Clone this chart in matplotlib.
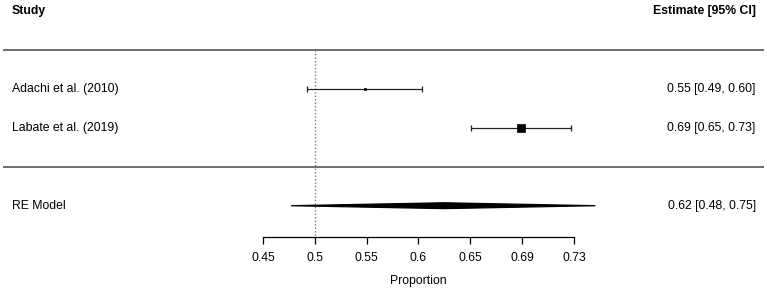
"""
Forest plot of pooled proportion (logit scale, back-transformed tick labels).
"""
import numpy as np
import matplotlib.pyplot as plt
from matplotlib.patches import Polygon

# -- Data --
studies = ["Adachi et al. (2010)", "Labate et al. (2019)"]
est = [0.548, 0.689]
ci_lo = [0.492, 0.646]
ci_hi = [0.602, 0.729]

re_label = "RE Model"
re_est = 0.622
re_lo = 0.477
re_hi = 0.747

tick_logit = [-0.2, 0.0, 0.2, 0.4, 0.6, 0.8, 1.0]
tick_labels = ["0.45", "0.5", "0.55", "0.6", "0.65", "0.69", "0.73"]
ref_value = 0.5

def logit(p):
    p = np.asarray(p, dtype=float)
    return np.log(p / (1 - p))

def fmt(e, lo, hi):
    return "%.2f [%.2f, %.2f]" % (e, lo, hi)

def main():
    plt.rcParams['font.family'] = ['Liberation Sans', 'DejaVu Sans']
    fs = 8.8
    fig = plt.figure(figsize=(7.67, 2.91), dpi=100)
    ax = fig.add_axes([0, 0, 1, 1])
    ax.set_xlim(-1.2145, 1.7446)
    ax.set_ylim(-3.187, 4.274)

    rows = np.arange(len(studies), 0, -1)  # 2, 1
    x_left, x_right = -1.168, 1.701
    line_l, line_r = -1.203, 1.733

    # -- header --
    ax.text(x_left, 4, "Study", ha='left', va='center', fontsize=fs, fontweight='bold')
    ax.text(x_right, 4, "Estimate [95% CI]", ha='right', va='center', fontsize=fs, fontweight='bold')

    # -- separators --
    for y in (3, 0):
        ax.plot([line_l, line_r], [y, y], color='#555555', lw=1.2, solid_capstyle='butt')

    # -- reference line --
    ax.plot([logit(ref_value)] * 2, [3, -1.795], color='#777777', lw=1.0, ls=(0, (1, 1.5)))

    # -- studies --
    sizes = [2.0, 6.0]
    for i, r in enumerate(rows):
        x = logit(est[i])
        lo, hi = logit(ci_lo[i]), logit(ci_hi[i])
        ax.errorbar(x, r, xerr=[[x - lo], [hi - x]], fmt='none', ecolor='#222222',
                    elinewidth=0.9, capsize=2.0, capthick=0.9)
        ax.plot(x, r, 's', color='black', ms=sizes[i], mew=0.5)
        ax.text(x_left, r, studies[i], ha='left', va='center', fontsize=fs)
        ax.text(x_right, r, fmt(est[i], ci_lo[i], ci_hi[i]), ha='right', va='center', fontsize=fs)

    # -- summary diamond --
    h = 0.075
    xe, xl, xh = logit(re_est), logit(re_lo), logit(re_hi)
    ax.add_patch(Polygon([[xl, -1], [xe, -1 + h], [xh, -1], [xe, -1 - h]],
                         closed=True, facecolor='black', edgecolor='black', lw=0.9))
    ax.text(x_left, -1, re_label, ha='left', va='center', fontsize=fs)
    ax.text(x_right, -1, fmt(re_est, re_lo, re_hi), ha='right', va='center', fontsize=fs)

    # -- x axis --
    for s in ('top', 'left', 'right'):
        ax.spines[s].set_visible(False)
    ax.spines['bottom'].set_position(('data', -1.795))
    ax.spines['bottom'].set_bounds(tick_logit[0], tick_logit[-1])
    ax.spines['bottom'].set_linewidth(0.9)
    ax.set_xticks(tick_logit)
    ax.set_xticklabels(tick_labels, fontsize=fs)
    ax.tick_params(axis='x', direction='out', length=5, width=0.9, pad=6)
    ax.set_yticks([])
    ax.text(np.mean([tick_logit[0], tick_logit[-1]]), -2.936, "Proportion",
            ha='center', va='center', fontsize=fs)

    fig.savefig("out.png", dpi=100)

if __name__ == "__main__":
    main()
